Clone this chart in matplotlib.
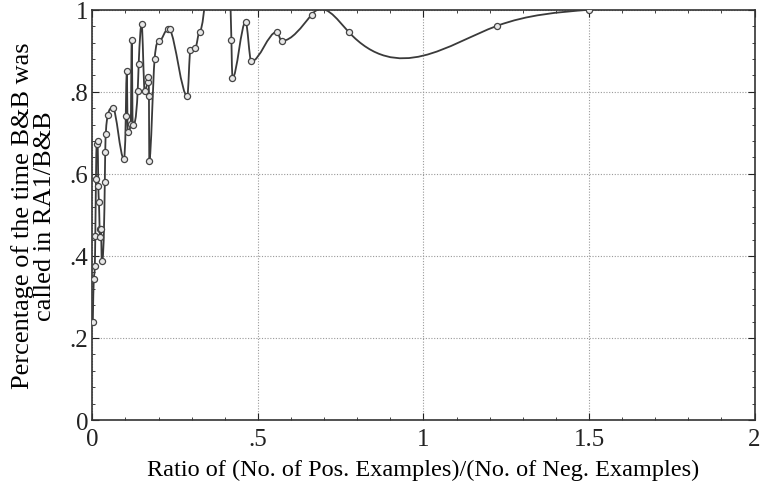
import numpy as np
import matplotlib
matplotlib.use("Agg")
import matplotlib.pyplot as plt
from matplotlib.path import Path
from matplotlib.patches import PathPatch
from matplotlib.ticker import FixedLocator, MultipleLocator

# ratio of positive / negative examples, and share of calls
ratio = [0.0015, 0.0045, 0.0075, 0.009, 0.011, 0.013, 0.016, 0.018, 0.020, 0.022,
         0.024, 0.026, 0.0287, 0.0377, 0.039, 0.0407, 0.0468, 0.0618, 0.095, 0.101,
         0.104, 0.107, 0.116, 0.119, 0.122, 0.137, 0.140, 0.149, 0.158, 0.167,
         0.169, 0.171, 0.172, 0.188, 0.2015, 0.229, 0.234, 0.287, 0.296, 0.311,
         0.324, 0.420, 0.423, 0.463, 0.480, 0.557, 0.572, 0.662, 0.774, 1.223,
         1.500]
share = [0.239, 0.344, 0.376, 0.449, 0.588, 0.673, 0.680, 0.571, 0.532, 0.466,
         0.446, 0.466, 0.388, 0.580, 0.654, 0.698, 0.744, 0.761, 0.637, 0.741,
         0.851, 0.702, 0.722, 0.927, 0.720, 0.802, 0.868, 0.966, 0.802, 0.824,
         0.837, 0.790, 0.632, 0.879, 0.923, 0.954, 0.952, 0.789, 0.902, 0.907,
         0.947, 0.927, 0.833, 0.971, 0.874, 0.946, 0.924, 0.988, 0.946, 0.961,
         1.000]

x_ticks = [0, 0.5, 1, 1.5, 2]
x_tick_labels = ["0", ".5", "1", "1.5", "2"]
y_ticks = [0, 0.2, 0.4, 0.6, 0.8, 1]
y_tick_labels = ["0", ".2", ".4", ".6", ".8", "1"]


def spline_path(x, y, short=0.05):
    # cubic spline through the points (natural end conditions), as bezier segments;
    # short segments are kept monotone so the tight zig-zags don't overshoot
    x = np.asarray(x, float); y = np.asarray(y, float)
    n = len(x); h = np.diff(x)
    A = np.zeros((n, n)); b = np.zeros(n)
    A[0, 0] = A[-1, -1] = 1
    for i in range(1, n - 1):
        A[i, i - 1] = h[i - 1]; A[i, i] = 2 * (h[i - 1] + h[i]); A[i, i + 1] = h[i]
        b[i] = 6 * ((y[i + 1] - y[i]) / h[i] - (y[i] - y[i - 1]) / h[i - 1])
    M = np.linalg.solve(A, b)
    d = np.empty(n)
    d[:-1] = (y[1:] - y[:-1]) / h - h * (2 * M[:-1] + M[1:]) / 6
    d[-1] = (y[-1] - y[-2]) / h[-1] + h[-1] * (2 * M[-1] + M[-2]) / 6
    sec = np.diff(y) / h
    for i in range(1, n - 1):
        # sharp turn next to a short segment: flat tangent
        if sec[i - 1] * sec[i] < 0 and min(h[i - 1], h[i]) < short:
            d[i] = 0.0
    for k in range(n - 1):
        if h[k] >= short:
            continue
        for i in (k, k + 1):
            if sec[k] == 0 or d[i] * sec[k] < 0:
                d[i] = 0.0
            elif d[i] / sec[k] > 3:
                d[i] = 3 * sec[k]
    verts = [(x[0], y[0])]; codes = [Path.MOVETO]
    for i in range(n - 1):
        verts += [(x[i] + h[i] / 3, y[i] + d[i] * h[i] / 3),
                  (x[i + 1] - h[i] / 3, y[i + 1] - d[i + 1] * h[i] / 3),
                  (x[i + 1], y[i + 1])]
        codes += [Path.CURVE4] * 3
    return Path(verts, codes)


plt.rcParams['font.family'] = ['Liberation Serif', 'DejaVu Serif']

fig = plt.figure(figsize=(7.63, 4.89), dpi=100)
ax = fig.add_axes([0.121, 0.139, 0.868, 0.839])

ax.add_patch(PathPatch(spline_path(ratio, share), facecolor='none',
                       edgecolor='#3a3a3a', linewidth=1.3, zorder=3))
ax.plot(ratio, share, linestyle='none', marker='o', markersize=4.4,
        markerfacecolor='#e8e8e8', markeredgecolor='#444444',
        markeredgewidth=0.9, zorder=4)

ax.set_xlim(0, 2)
ax.set_ylim(0, 1)
ax.xaxis.set_major_locator(FixedLocator(x_ticks))
ax.set_xticklabels(x_tick_labels)
ax.yaxis.set_major_locator(FixedLocator(y_ticks))
ax.set_yticklabels(y_tick_labels)
ax.xaxis.set_minor_locator(MultipleLocator(0.1))
ax.yaxis.set_minor_locator(MultipleLocator(0.04))
ax.tick_params(which='both', direction='in', top=True, right=True, colors='#222222')
ax.tick_params(which='major', length=5, labelsize=18, pad=3)
ax.tick_params(axis='x', which='major', pad=6)
ax.tick_params(which='minor', length=2.5)
ax.grid(which='major', linestyle=(0, (1, 1.5)), linewidth=0.8, color='#999999')

for s in ax.spines.values():
    s.set_linewidth(1.2)
    s.set_color('#333333')

ax.set_xlabel("Ratio of (No. of Pos. Examples)/(No. of Neg. Examples)", fontsize=17.5, labelpad=6)
ax.set_ylabel("Percentage of the time B&B was\ncalled in RA1/B&B", fontsize=19,
              labelpad=10, linespacing=1.0)

fig.savefig("out.png", dpi=100)
